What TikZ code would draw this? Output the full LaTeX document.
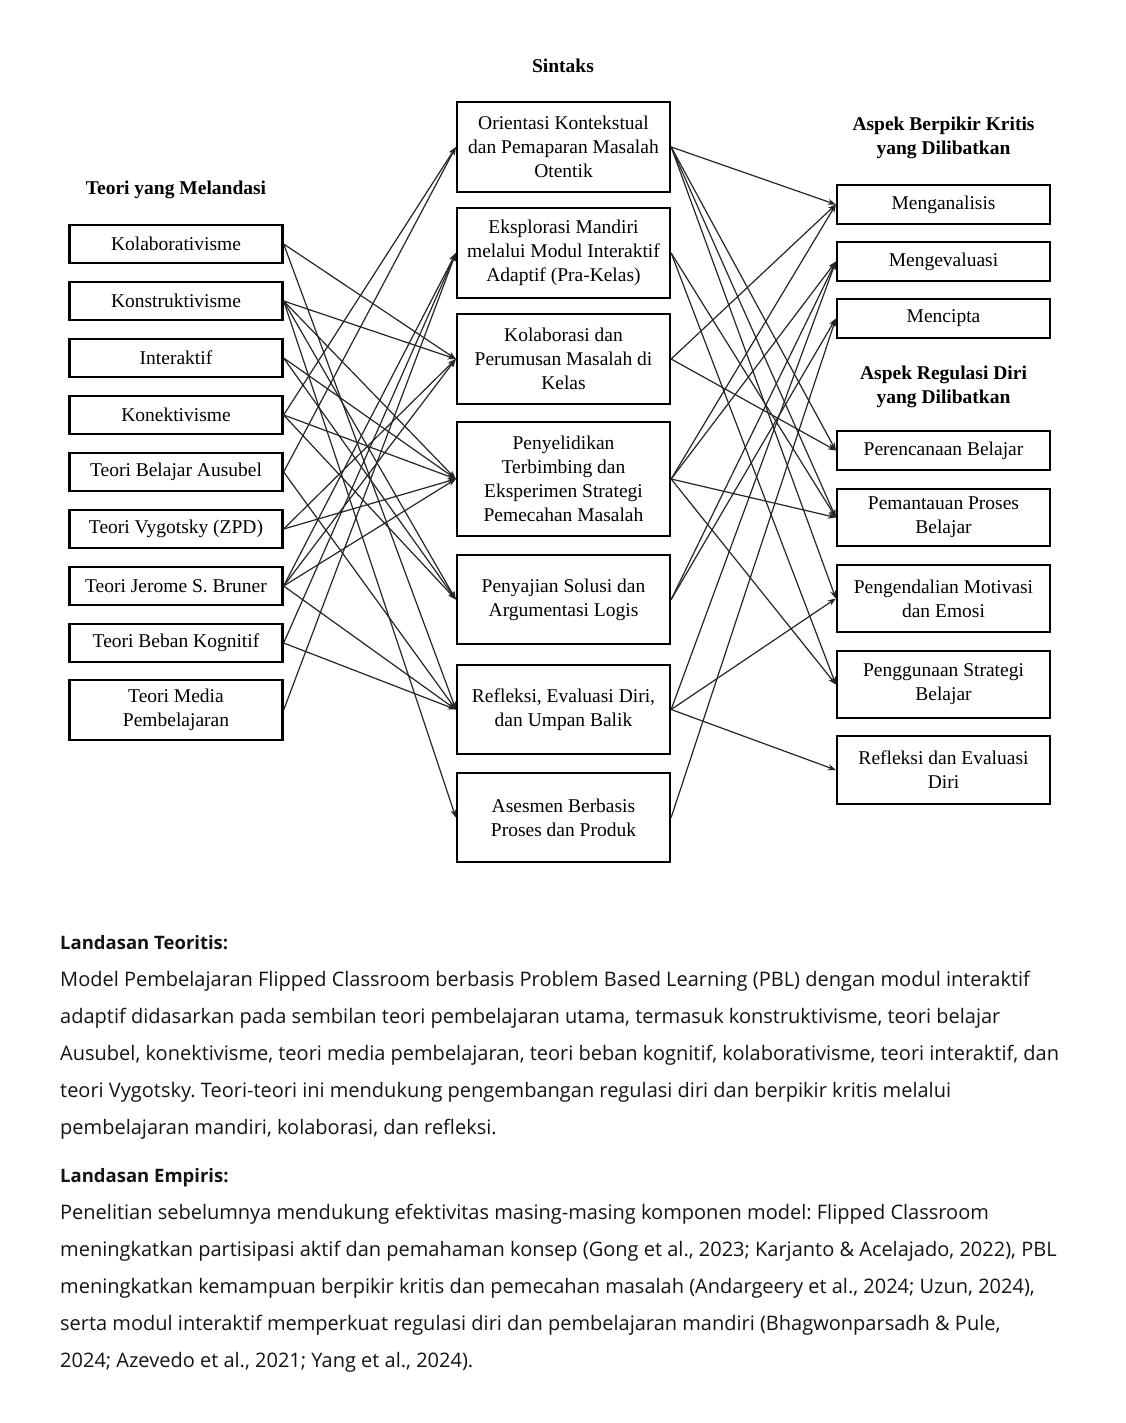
\documentclass[tikz,border=0pt]{standalone}
\usepackage{fontspec}
\setmainfont{Liberation Serif}
\newfontfamily\bodyfont{Open Sans}
\usetikzlibrary{arrows.meta}
\frenchspacing
\begin{document}
\begin{tikzpicture}[x=1pt,y=-1pt,
 box/.style={draw=black,line width=2.3pt,minimum width=213pt,inner sep=1pt,align=center,font=\fontsize{19.5}{24}\selectfont},
 link/.style={line width=1.2pt,draw=black!85,-{Stealth[length=8pt,width=6pt]}},
 head/.style={font=\bfseries\fontsize{19.5}{24}\selectfont,align=center},
 body/.style={anchor=base west,inner sep=0pt,font=\bodyfont\frenchspacing\fontsize{20}{24}\selectfont,text=black!92},
 bodyb/.style={body,font=\bodyfont\bfseries\fontsize{18.5}{22}\selectfont}]
\useasboundingbox[fill=white] (0,0) rectangle (1125,1423);

% headers
\node[head] (hS) at (563,66) {Sintaks};
\node[head] (hT) at (176,190) {Teori yang Melandasi};
\node[head] (hK) at (943.5,138) {Aspek Berpikir Kritis\\yang Dilibatkan};
\node[head] (hR) at (943.5,387) {Aspek Regulasi Diri\\yang Dilibatkan};

% left column
\node[box,minimum height=38pt] (L1) at (176,244) {Kolaborativisme};
\node[box,minimum height=38pt] (L2) at (176,301) {Konstruktivisme};
\node[box,minimum height=38pt] (L3) at (176,358) {Interaktif};
\node[box,minimum height=38pt] (L4) at (176,415) {Konektivisme};
\node[box,minimum height=38pt] (L5) at (176,472) {Teori Belajar Ausubel};
\node[box,minimum height=38pt] (L6) at (176,529) {Teori Vygotsky (ZPD)};
\node[box,minimum height=38pt] (L7) at (176,586) {Teori Jerome S. Bruner};
\node[box,minimum height=38pt] (L8) at (176,643) {Teori Beban Kognitif};
\node[box,minimum height=60pt] (L9) at (176,710) {Teori Media\\Pembelajaran};

% middle column
\node[box,minimum height=90pt] (M1) at (563.5,147) {Orientasi Kontekstual\\dan Pemaparan Masalah\\Otentik};
\node[box,minimum height=90pt] (M2) at (563.5,253) {Eksplorasi Mandiri\\melalui Modul Interaktif\\Adaptif (Pra-Kelas)};
\node[box,minimum height=90pt] (M3) at (563.5,359) {Kolaborasi dan\\Perumusan Masalah di\\Kelas};
\node[box,minimum height=114pt] (M4) at (563.5,479) {Penyelidikan\\Terbimbing dan\\Eksperimen Strategi\\Pemecahan Masalah};
\node[box,minimum height=89pt] (M5) at (563.5,599.5) {Penyajian Solusi dan\\Argumentasi Logis};
\node[box,minimum height=89pt] (M6) at (563.5,709.5) {Refleksi, Evaluasi Diri,\\dan Umpan Balik};
\node[box,minimum height=89pt] (M7) at (563.5,817.5) {Asesmen Berbasis\\Proses dan Produk};

% right column
\node[box,minimum height=39pt] (R1) at (943.5,204.5) {Menganalisis};
\node[box,minimum height=39pt] (R2) at (943.5,261.5) {Mengevaluasi};
\node[box,minimum height=39pt] (R3) at (943.5,318.5) {Mencipta};
\node[box,minimum height=39pt] (R4) at (943.5,450.5) {Perencanaan Belajar};
\node[box,minimum height=57pt] (R5) at (943.5,517.5) {Pemantauan Proses\\Belajar};
\node[box,minimum height=67pt] (R6) at (943.5,598.5) {Pengendalian Motivasi\\dan Emosi};
\node[box,minimum height=67pt] (R7) at (943.5,684.5) {Penggunaan Strategi\\Belajar};
\node[box,minimum height=68pt] (R8) at (943.5,770) {Refleksi dan Evaluasi\\Diri};

% theory -> syntax
\foreach \s/\t in {L1/M3,L1/M6,
  L2/M3,L2/M4,L2/M5,L2/M7,
  L3/M4,L3/M5,
  L4/M1,L4/M4,L4/M5,
  L5/M1,L5/M6,
  L6/M3,L6/M4,
  L7/M2,L7/M3,L7/M4,L7/M6,
  L8/M2,L8/M6,
  L9/M2}
  \draw[link] (\s.east) -- (\t.west);

% syntax -> aspects
\foreach \s/\t in {M1/R1,M1/R4,M1/R5,M1/R6,
  M2/R5,M2/R7,
  M3/R1,M3/R4,
  M4/R1,M4/R2,M4/R5,M4/R7,
  M5/R2,M5/R3,
  M6/R2,M6/R6,M6/R8,
  M7/R3}
  \draw[link] (\s.east) -- (\t.west);

% text
\node[bodyb] (t0) at (60,949) {Landasan Teoritis:};
\node[body] (t1) at (60,986) {Model Pembelajaran Flipped Classroom berbasis Problem Based Learning (PBL) dengan modul interaktif};
\node[body] (t2) at (60,1023) {adaptif didasarkan pada sembilan teori pembelajaran utama, termasuk konstruktivisme, teori belajar};
\node[body] (t3) at (60,1060) {Ausubel, konektivisme, teori media pembelajaran, teori beban kognitif, kolaborativisme, teori interaktif, dan};
\node[body] (t4) at (60,1097) {teori Vygotsky. Teori-teori ini mendukung pengembangan regulasi diri dan berpikir kritis melalui};
\node[body] (t5) at (60,1134) {pembelajaran mandiri, kolaborasi, dan refleksi.};
\node[bodyb] (e0) at (60,1182) {Landasan Empiris:};
\node[body] (e1) at (60,1219) {Penelitian sebelumnya mendukung efektivitas masing-masing komponen model: Flipped Classroom};
\node[body] (e2) at (60,1256) {meningkatkan partisipasi aktif dan pemahaman konsep (Gong et al., 2023; Karjanto \& Acelajado, 2022), PBL};
\node[body] (e3) at (60,1293) {meningkatkan kemampuan berpikir kritis dan pemecahan masalah (Andargeery et al., 2024; Uzun, 2024),};
\node[body] (e4) at (60,1330) {serta modul interaktif memperkuat regulasi diri dan pembelajaran mandiri (Bhagwonparsadh \& Pule,};
\node[body] (e5) at (60,1367) {2024; Azevedo et al., 2021; Yang et al., 2024).};
\end{tikzpicture}
\end{document}
